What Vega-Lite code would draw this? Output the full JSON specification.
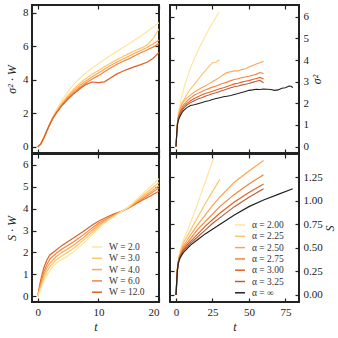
{
"$schema": "https://vega.github.io/schema/vega-lite/v6.json",
"padding": {"left": 4, "top": 3, "right": 1, "bottom": 3},
"background": "white",
"datasets": {
"tl": [
{"s":"W = 2.0","t":0,"v":0},{"s":"W = 2.0","t":0.5,"v":0.18},{"s":"W = 2.0","t":1,"v":0.55},{"s":"W = 2.0","t":1.5,"v":0.98},{"s":"W = 2.0","t":2,"v":1.4},{"s":"W = 2.0","t":2.5,"v":1.8},{"s":"W = 2.0","t":3,"v":2.15},{"s":"W = 2.0","t":4,"v":2.78},{"s":"W = 2.0","t":5,"v":3.3},{"s":"W = 2.0","t":6,"v":3.75},{"s":"W = 2.0","t":7,"v":4.1},{"s":"W = 2.0","t":8,"v":4.42},{"s":"W = 2.0","t":9,"v":4.7},{"s":"W = 2.0","t":10,"v":4.95},{"s":"W = 2.0","t":11,"v":5.2},{"s":"W = 2.0","t":12,"v":5.44},{"s":"W = 2.0","t":13,"v":5.67},{"s":"W = 2.0","t":14,"v":5.9},{"s":"W = 2.0","t":15,"v":6.13},{"s":"W = 2.0","t":16,"v":6.36},{"s":"W = 2.0","t":17,"v":6.6},{"s":"W = 2.0","t":18,"v":6.86},{"s":"W = 2.0","t":19,"v":7.12},{"s":"W = 2.0","t":20,"v":7.4},
{"s":"W = 3.0","t":0,"v":0},{"s":"W = 3.0","t":0.5,"v":0.18},{"s":"W = 3.0","t":1,"v":0.55},{"s":"W = 3.0","t":1.5,"v":0.97},{"s":"W = 3.0","t":2,"v":1.38},{"s":"W = 3.0","t":2.5,"v":1.74},{"s":"W = 3.0","t":3,"v":2.06},{"s":"W = 3.0","t":4,"v":2.62},{"s":"W = 3.0","t":5,"v":3.08},{"s":"W = 3.0","t":6,"v":3.47},{"s":"W = 3.0","t":7,"v":3.8},{"s":"W = 3.0","t":8,"v":4.08},{"s":"W = 3.0","t":9,"v":4.32},{"s":"W = 3.0","t":10,"v":4.55},{"s":"W = 3.0","t":11,"v":4.77},{"s":"W = 3.0","t":12,"v":4.98},{"s":"W = 3.0","t":13,"v":5.18},{"s":"W = 3.0","t":14,"v":5.37},{"s":"W = 3.0","t":15,"v":5.55},{"s":"W = 3.0","t":16,"v":5.72},{"s":"W = 3.0","t":17,"v":5.88},{"s":"W = 3.0","t":18,"v":6.05},{"s":"W = 3.0","t":19,"v":6.45},{"s":"W = 3.0","t":20,"v":7.02},
{"s":"W = 4.0","t":0,"v":0},{"s":"W = 4.0","t":0.5,"v":0.17},{"s":"W = 4.0","t":1,"v":0.54},{"s":"W = 4.0","t":1.5,"v":0.96},{"s":"W = 4.0","t":2,"v":1.37},{"s":"W = 4.0","t":2.5,"v":1.72},{"s":"W = 4.0","t":3,"v":2.02},{"s":"W = 4.0","t":4,"v":2.55},{"s":"W = 4.0","t":5,"v":2.98},{"s":"W = 4.0","t":6,"v":3.36},{"s":"W = 4.0","t":7,"v":3.67},{"s":"W = 4.0","t":8,"v":3.94},{"s":"W = 4.0","t":9,"v":4.18},{"s":"W = 4.0","t":10,"v":4.4},{"s":"W = 4.0","t":11,"v":4.62},{"s":"W = 4.0","t":12,"v":4.84},{"s":"W = 4.0","t":13,"v":5.04},{"s":"W = 4.0","t":14,"v":5.22},{"s":"W = 4.0","t":15,"v":5.4},{"s":"W = 4.0","t":16,"v":5.57},{"s":"W = 4.0","t":17,"v":5.74},{"s":"W = 4.0","t":18,"v":5.92},{"s":"W = 4.0","t":19,"v":6.12},{"s":"W = 4.0","t":20,"v":6.36},
{"s":"W = 6.0","t":0,"v":0},{"s":"W = 6.0","t":0.5,"v":0.17},{"s":"W = 6.0","t":1,"v":0.53},{"s":"W = 6.0","t":1.5,"v":0.95},{"s":"W = 6.0","t":2,"v":1.36},{"s":"W = 6.0","t":2.5,"v":1.71},{"s":"W = 6.0","t":3,"v":2.0},{"s":"W = 6.0","t":4,"v":2.5},{"s":"W = 6.0","t":5,"v":2.9},{"s":"W = 6.0","t":6,"v":3.26},{"s":"W = 6.0","t":7,"v":3.55},{"s":"W = 6.0","t":8,"v":3.82},{"s":"W = 6.0","t":9,"v":4.04},{"s":"W = 6.0","t":10,"v":4.24},{"s":"W = 6.0","t":11,"v":4.47},{"s":"W = 6.0","t":12,"v":4.7},{"s":"W = 6.0","t":13,"v":4.9},{"s":"W = 6.0","t":14,"v":5.08},{"s":"W = 6.0","t":15,"v":5.24},{"s":"W = 6.0","t":16,"v":5.43},{"s":"W = 6.0","t":17,"v":5.6},{"s":"W = 6.0","t":18,"v":5.77},{"s":"W = 6.0","t":19,"v":5.94},{"s":"W = 6.0","t":20,"v":6.15},
{"s":"W = 12.0","t":0,"v":0},{"s":"W = 12.0","t":0.5,"v":0.16},{"s":"W = 12.0","t":1,"v":0.52},{"s":"W = 12.0","t":1.5,"v":0.94},{"s":"W = 12.0","t":2,"v":1.35},{"s":"W = 12.0","t":2.5,"v":1.7},{"s":"W = 12.0","t":3,"v":1.98},{"s":"W = 12.0","t":4,"v":2.46},{"s":"W = 12.0","t":5,"v":2.85},{"s":"W = 12.0","t":6,"v":3.18},{"s":"W = 12.0","t":7,"v":3.47},{"s":"W = 12.0","t":8,"v":3.72},{"s":"W = 12.0","t":9,"v":3.86},{"s":"W = 12.0","t":10,"v":3.82},{"s":"W = 12.0","t":11,"v":3.87},{"s":"W = 12.0","t":12,"v":4.1},{"s":"W = 12.0","t":13,"v":4.33},{"s":"W = 12.0","t":14,"v":4.5},{"s":"W = 12.0","t":15,"v":4.64},{"s":"W = 12.0","t":16,"v":4.78},{"s":"W = 12.0","t":17,"v":4.9},{"s":"W = 12.0","t":18,"v":5.04},{"s":"W = 12.0","t":19,"v":5.26},{"s":"W = 12.0","t":20,"v":5.62}
],
"bl": [
{"s":"W = 12.0","t":0,"v":0},{"s":"W = 12.0","t":0.25,"v":0.4},{"s":"W = 12.0","t":0.5,"v":0.75},{"s":"W = 12.0","t":1,"v":1.3},{"s":"W = 12.0","t":1.5,"v":1.65},{"s":"W = 12.0","t":2,"v":1.88},{"s":"W = 12.0","t":3,"v":2.1},{"s":"W = 12.0","t":4,"v":2.32},{"s":"W = 12.0","t":5,"v":2.5},{"s":"W = 12.0","t":6,"v":2.68},{"s":"W = 12.0","t":7.5,"v":2.95},{"s":"W = 12.0","t":9,"v":3.25},{"s":"W = 12.0","t":10,"v":3.42},{"s":"W = 12.0","t":11,"v":3.56},{"s":"W = 12.0","t":12.5,"v":3.75},{"s":"W = 12.0","t":14,"v":3.9},{"s":"W = 12.0","t":15,"v":4.03},{"s":"W = 12.0","t":17,"v":4.35},{"s":"W = 12.0","t":18.5,"v":4.57},{"s":"W = 12.0","t":20,"v":4.8},
{"s":"W = 6.0","t":0,"v":0},{"s":"W = 6.0","t":0.25,"v":0.3},{"s":"W = 6.0","t":0.5,"v":0.6},{"s":"W = 6.0","t":1,"v":1.1},{"s":"W = 6.0","t":1.5,"v":1.45},{"s":"W = 6.0","t":2,"v":1.7},{"s":"W = 6.0","t":3,"v":1.95},{"s":"W = 6.0","t":4,"v":2.15},{"s":"W = 6.0","t":5,"v":2.33},{"s":"W = 6.0","t":6,"v":2.5},{"s":"W = 6.0","t":7.5,"v":2.8},{"s":"W = 6.0","t":9,"v":3.12},{"s":"W = 6.0","t":10,"v":3.33},{"s":"W = 6.0","t":11,"v":3.48},{"s":"W = 6.0","t":12.5,"v":3.7},{"s":"W = 6.0","t":14,"v":3.9},{"s":"W = 6.0","t":15,"v":4.05},{"s":"W = 6.0","t":17,"v":4.4},{"s":"W = 6.0","t":18.5,"v":4.67},{"s":"W = 6.0","t":20,"v":4.95},
{"s":"W = 4.0","t":0,"v":0},{"s":"W = 4.0","t":0.25,"v":0.25},{"s":"W = 4.0","t":0.5,"v":0.5},{"s":"W = 4.0","t":1,"v":0.95},{"s":"W = 4.0","t":1.5,"v":1.3},{"s":"W = 4.0","t":2,"v":1.5},{"s":"W = 4.0","t":3,"v":1.8},{"s":"W = 4.0","t":4,"v":2.0},{"s":"W = 4.0","t":5,"v":2.17},{"s":"W = 4.0","t":6,"v":2.35},{"s":"W = 4.0","t":7.5,"v":2.67},{"s":"W = 4.0","t":9,"v":3.02},{"s":"W = 4.0","t":10,"v":3.25},{"s":"W = 4.0","t":11,"v":3.42},{"s":"W = 4.0","t":12.5,"v":3.68},{"s":"W = 4.0","t":14,"v":3.9},{"s":"W = 4.0","t":15,"v":4.06},{"s":"W = 4.0","t":17,"v":4.45},{"s":"W = 4.0","t":18.5,"v":4.75},{"s":"W = 4.0","t":20,"v":5.05},
{"s":"W = 3.0","t":0,"v":0},{"s":"W = 3.0","t":0.25,"v":0.2},{"s":"W = 3.0","t":0.5,"v":0.42},{"s":"W = 3.0","t":1,"v":0.82},{"s":"W = 3.0","t":1.5,"v":1.12},{"s":"W = 3.0","t":2,"v":1.35},{"s":"W = 3.0","t":3,"v":1.65},{"s":"W = 3.0","t":4,"v":1.85},{"s":"W = 3.0","t":5,"v":2.02},{"s":"W = 3.0","t":6,"v":2.2},{"s":"W = 3.0","t":7.5,"v":2.55},{"s":"W = 3.0","t":9,"v":2.92},{"s":"W = 3.0","t":10,"v":3.17},{"s":"W = 3.0","t":11,"v":3.38},{"s":"W = 3.0","t":12.5,"v":3.65},{"s":"W = 3.0","t":14,"v":3.9},{"s":"W = 3.0","t":15,"v":4.07},{"s":"W = 3.0","t":17,"v":4.52},{"s":"W = 3.0","t":18.5,"v":4.85},{"s":"W = 3.0","t":20,"v":5.2},
{"s":"W = 2.0","t":0,"v":0},{"s":"W = 2.0","t":0.25,"v":0.15},{"s":"W = 2.0","t":0.5,"v":0.33},{"s":"W = 2.0","t":1,"v":0.68},{"s":"W = 2.0","t":1.5,"v":0.95},{"s":"W = 2.0","t":2,"v":1.18},{"s":"W = 2.0","t":3,"v":1.5},{"s":"W = 2.0","t":4,"v":1.68},{"s":"W = 2.0","t":5,"v":1.85},{"s":"W = 2.0","t":6,"v":2.05},{"s":"W = 2.0","t":7.5,"v":2.4},{"s":"W = 2.0","t":9,"v":2.82},{"s":"W = 2.0","t":10,"v":3.1},{"s":"W = 2.0","t":11,"v":3.33},{"s":"W = 2.0","t":12.5,"v":3.62},{"s":"W = 2.0","t":14,"v":3.9},{"s":"W = 2.0","t":15,"v":4.09},{"s":"W = 2.0","t":17,"v":4.6},{"s":"W = 2.0","t":18.5,"v":4.98},{"s":"W = 2.0","t":20,"v":5.37}
],
"tr": [
{"s":"α = 2.00","t":0,"v":0},{"s":"α = 2.00","t":0.5,"v":0.62},{"s":"α = 2.00","t":1,"v":1.15},{"s":"α = 2.00","t":1.5,"v":1.45},{"s":"α = 2.00","t":2,"v":1.68},{"s":"α = 2.00","t":3,"v":2.02},{"s":"α = 2.00","t":4,"v":2.32},{"s":"α = 2.00","t":5,"v":2.6},{"s":"α = 2.00","t":6,"v":2.85},{"s":"α = 2.00","t":7.5,"v":3.15},{"s":"α = 2.00","t":10,"v":3.65},{"s":"α = 2.00","t":12.5,"v":4.05},{"s":"α = 2.00","t":15,"v":4.42},{"s":"α = 2.00","t":17.5,"v":4.78},{"s":"α = 2.00","t":20,"v":5.1},{"s":"α = 2.00","t":22.5,"v":5.42},{"s":"α = 2.00","t":25,"v":5.72},{"s":"α = 2.00","t":27.5,"v":6.0},{"s":"α = 2.00","t":29.5,"v":6.24},
{"s":"α = 2.25","t":0,"v":0},{"s":"α = 2.25","t":0.5,"v":0.6},{"s":"α = 2.25","t":1,"v":1.1},{"s":"α = 2.25","t":1.5,"v":1.38},{"s":"α = 2.25","t":2,"v":1.55},{"s":"α = 2.25","t":3,"v":1.82},{"s":"α = 2.25","t":4,"v":2.0},{"s":"α = 2.25","t":5,"v":2.12},{"s":"α = 2.25","t":7.5,"v":2.42},{"s":"α = 2.25","t":10,"v":2.66},{"s":"α = 2.25","t":12.5,"v":2.88},{"s":"α = 2.25","t":15,"v":3.08},{"s":"α = 2.25","t":17.5,"v":3.3},{"s":"α = 2.25","t":20,"v":3.5},{"s":"α = 2.25","t":22.5,"v":3.7},{"s":"α = 2.25","t":25,"v":3.88},{"s":"α = 2.25","t":27.5,"v":3.9},{"s":"α = 2.25","t":29,"v":4.0},{"s":"α = 2.25","t":30,"v":3.98},
{"s":"α = 2.50","t":0,"v":0},{"s":"α = 2.50","t":0.5,"v":0.58},{"s":"α = 2.50","t":1,"v":1.08},{"s":"α = 2.50","t":1.5,"v":1.35},{"s":"α = 2.50","t":2,"v":1.52},{"s":"α = 2.50","t":3,"v":1.76},{"s":"α = 2.50","t":4,"v":1.95},{"s":"α = 2.50","t":5,"v":2.06},{"s":"α = 2.50","t":7.5,"v":2.25},{"s":"α = 2.50","t":10,"v":2.38},{"s":"α = 2.50","t":12.5,"v":2.52},{"s":"α = 2.50","t":15,"v":2.62},{"s":"α = 2.50","t":17.5,"v":2.72},{"s":"α = 2.50","t":20,"v":2.8},{"s":"α = 2.50","t":22.5,"v":2.9},{"s":"α = 2.50","t":25,"v":3.0},{"s":"α = 2.50","t":27.5,"v":3.1},{"s":"α = 2.50","t":30,"v":3.2},{"s":"α = 2.50","t":32.5,"v":3.32},{"s":"α = 2.50","t":35,"v":3.42},{"s":"α = 2.50","t":37.5,"v":3.46},{"s":"α = 2.50","t":40,"v":3.5},{"s":"α = 2.50","t":42.5,"v":3.5},{"s":"α = 2.50","t":45,"v":3.56},{"s":"α = 2.50","t":47.5,"v":3.6},{"s":"α = 2.50","t":50,"v":3.68},{"s":"α = 2.50","t":52.5,"v":3.75},{"s":"α = 2.50","t":55,"v":3.82},{"s":"α = 2.50","t":57.5,"v":3.88},{"s":"α = 2.50","t":60,"v":3.95},
{"s":"α = 2.75","t":0,"v":0},{"s":"α = 2.75","t":0.5,"v":0.57},{"s":"α = 2.75","t":1,"v":1.06},{"s":"α = 2.75","t":1.5,"v":1.3},{"s":"α = 2.75","t":2,"v":1.45},{"s":"α = 2.75","t":3,"v":1.65},{"s":"α = 2.75","t":4,"v":1.8},{"s":"α = 2.75","t":5,"v":1.92},{"s":"α = 2.75","t":7.5,"v":2.1},{"s":"α = 2.75","t":10,"v":2.25},{"s":"α = 2.75","t":12.5,"v":2.37},{"s":"α = 2.75","t":15,"v":2.46},{"s":"α = 2.75","t":17.5,"v":2.54},{"s":"α = 2.75","t":20,"v":2.62},{"s":"α = 2.75","t":22.5,"v":2.68},{"s":"α = 2.75","t":25,"v":2.75},{"s":"α = 2.75","t":27.5,"v":2.8},{"s":"α = 2.75","t":30,"v":2.87},{"s":"α = 2.75","t":32.5,"v":2.93},{"s":"α = 2.75","t":35,"v":2.98},{"s":"α = 2.75","t":37.5,"v":3.05},{"s":"α = 2.75","t":40,"v":3.1},{"s":"α = 2.75","t":42.5,"v":3.14},{"s":"α = 2.75","t":45,"v":3.18},{"s":"α = 2.75","t":47.5,"v":3.22},{"s":"α = 2.75","t":50,"v":3.25},{"s":"α = 2.75","t":52.5,"v":3.3},{"s":"α = 2.75","t":55,"v":3.34},{"s":"α = 2.75","t":57.5,"v":3.42},{"s":"α = 2.75","t":60,"v":3.38},
{"s":"α = 3.00","t":0,"v":0},{"s":"α = 3.00","t":0.5,"v":0.56},{"s":"α = 3.00","t":1,"v":1.04},{"s":"α = 3.00","t":1.5,"v":1.26},{"s":"α = 3.00","t":2,"v":1.4},{"s":"α = 3.00","t":3,"v":1.58},{"s":"α = 3.00","t":4,"v":1.72},{"s":"α = 3.00","t":5,"v":1.83},{"s":"α = 3.00","t":7.5,"v":2.0},{"s":"α = 3.00","t":10,"v":2.12},{"s":"α = 3.00","t":12.5,"v":2.22},{"s":"α = 3.00","t":15,"v":2.3},{"s":"α = 3.00","t":17.5,"v":2.38},{"s":"α = 3.00","t":20,"v":2.45},{"s":"α = 3.00","t":22.5,"v":2.5},{"s":"α = 3.00","t":25,"v":2.56},{"s":"α = 3.00","t":27.5,"v":2.62},{"s":"α = 3.00","t":30,"v":2.67},{"s":"α = 3.00","t":32.5,"v":2.72},{"s":"α = 3.00","t":35,"v":2.78},{"s":"α = 3.00","t":37.5,"v":2.84},{"s":"α = 3.00","t":40,"v":2.9},{"s":"α = 3.00","t":42.5,"v":2.93},{"s":"α = 3.00","t":45,"v":2.98},{"s":"α = 3.00","t":47.5,"v":3.02},{"s":"α = 3.00","t":50,"v":3.05},{"s":"α = 3.00","t":52.5,"v":3.1},{"s":"α = 3.00","t":55,"v":3.15},{"s":"α = 3.00","t":57.5,"v":3.2},{"s":"α = 3.00","t":60,"v":3.12},
{"s":"α = 3.25","t":0,"v":0},{"s":"α = 3.25","t":0.5,"v":0.55},{"s":"α = 3.25","t":1,"v":1.02},{"s":"α = 3.25","t":1.5,"v":1.22},{"s":"α = 3.25","t":2,"v":1.35},{"s":"α = 3.25","t":3,"v":1.52},{"s":"α = 3.25","t":4,"v":1.65},{"s":"α = 3.25","t":5,"v":1.75},{"s":"α = 3.25","t":7.5,"v":1.92},{"s":"α = 3.25","t":10,"v":2.03},{"s":"α = 3.25","t":12.5,"v":2.12},{"s":"α = 3.25","t":15,"v":2.2},{"s":"α = 3.25","t":17.5,"v":2.26},{"s":"α = 3.25","t":20,"v":2.33},{"s":"α = 3.25","t":22.5,"v":2.38},{"s":"α = 3.25","t":25,"v":2.44},{"s":"α = 3.25","t":27.5,"v":2.49},{"s":"α = 3.25","t":30,"v":2.55},{"s":"α = 3.25","t":32.5,"v":2.6},{"s":"α = 3.25","t":35,"v":2.66},{"s":"α = 3.25","t":37.5,"v":2.72},{"s":"α = 3.25","t":40,"v":2.77},{"s":"α = 3.25","t":42.5,"v":2.8},{"s":"α = 3.25","t":45,"v":2.84},{"s":"α = 3.25","t":47.5,"v":2.88},{"s":"α = 3.25","t":50,"v":2.92},{"s":"α = 3.25","t":52.5,"v":2.97},{"s":"α = 3.25","t":55,"v":3.02},{"s":"α = 3.25","t":57.5,"v":3.06},{"s":"α = 3.25","t":60,"v":2.95},
{"s":"α = ∞","t":0,"v":0},{"s":"α = ∞","t":0.5,"v":0.55},{"s":"α = ∞","t":1,"v":1.0},{"s":"α = ∞","t":1.5,"v":1.18},{"s":"α = ∞","t":2,"v":1.28},{"s":"α = ∞","t":3,"v":1.42},{"s":"α = ∞","t":4,"v":1.55},{"s":"α = ∞","t":5,"v":1.65},{"s":"α = ∞","t":7.5,"v":1.8},{"s":"α = ∞","t":10,"v":1.9},{"s":"α = ∞","t":12.5,"v":1.93},{"s":"α = ∞","t":15,"v":1.98},{"s":"α = ∞","t":17.5,"v":2.03},{"s":"α = ∞","t":20,"v":2.08},{"s":"α = ∞","t":22.5,"v":2.12},{"s":"α = ∞","t":25,"v":2.18},{"s":"α = ∞","t":27.5,"v":2.22},{"s":"α = ∞","t":30,"v":2.26},{"s":"α = ∞","t":32.5,"v":2.3},{"s":"α = ∞","t":35,"v":2.33},{"s":"α = ∞","t":37.5,"v":2.36},{"s":"α = ∞","t":40,"v":2.41},{"s":"α = ∞","t":42.5,"v":2.45},{"s":"α = ∞","t":45,"v":2.5},{"s":"α = ∞","t":47.5,"v":2.55},{"s":"α = ∞","t":50,"v":2.6},{"s":"α = ∞","t":52.5,"v":2.62},{"s":"α = ∞","t":55,"v":2.65},{"s":"α = ∞","t":57.5,"v":2.64},{"s":"α = ∞","t":60,"v":2.66},{"s":"α = ∞","t":62.5,"v":2.65},{"s":"α = ∞","t":65,"v":2.64},{"s":"α = ∞","t":67.5,"v":2.6},{"s":"α = ∞","t":70,"v":2.62},{"s":"α = ∞","t":72.5,"v":2.7},{"s":"α = ∞","t":75,"v":2.72},{"s":"α = ∞","t":77.5,"v":2.8},{"s":"α = ∞","t":79,"v":2.79},{"s":"α = ∞","t":80,"v":2.72}
],
"br": [
{"s":"α = 2.00","t":0,"v":0},{"s":"α = 2.00","t":0.25,"v":0.06},{"s":"α = 2.00","t":0.5,"v":0.15},{"s":"α = 2.00","t":1,"v":0.29},{"s":"α = 2.00","t":1.5,"v":0.36},{"s":"α = 2.00","t":2,"v":0.41},{"s":"α = 2.00","t":3,"v":0.48},{"s":"α = 2.00","t":5,"v":0.58},{"s":"α = 2.00","t":7.5,"v":0.67},{"s":"α = 2.00","t":10,"v":0.77},{"s":"α = 2.00","t":15,"v":0.98},{"s":"α = 2.00","t":20,"v":1.2},{"s":"α = 2.00","t":25,"v":1.42},{"s":"α = 2.00","t":26,"v":1.47},
{"s":"α = 2.25","t":0,"v":0},{"s":"α = 2.25","t":0.25,"v":0.06},{"s":"α = 2.25","t":0.5,"v":0.14},{"s":"α = 2.25","t":1,"v":0.28},{"s":"α = 2.25","t":1.5,"v":0.35},{"s":"α = 2.25","t":2,"v":0.4},{"s":"α = 2.25","t":3,"v":0.46},{"s":"α = 2.25","t":5,"v":0.55},{"s":"α = 2.25","t":7.5,"v":0.62},{"s":"α = 2.25","t":10,"v":0.69},{"s":"α = 2.25","t":15,"v":0.83},{"s":"α = 2.25","t":20,"v":0.97},{"s":"α = 2.25","t":25,"v":1.1},{"s":"α = 2.25","t":30,"v":1.23},
{"s":"α = 2.50","t":0,"v":0},{"s":"α = 2.50","t":0.25,"v":0.06},{"s":"α = 2.50","t":0.5,"v":0.14},{"s":"α = 2.50","t":1,"v":0.28},{"s":"α = 2.50","t":1.5,"v":0.34},{"s":"α = 2.50","t":2,"v":0.39},{"s":"α = 2.50","t":3,"v":0.44},{"s":"α = 2.50","t":5,"v":0.52},{"s":"α = 2.50","t":7.5,"v":0.58},{"s":"α = 2.50","t":10,"v":0.64},{"s":"α = 2.50","t":15,"v":0.75},{"s":"α = 2.50","t":20,"v":0.85},{"s":"α = 2.50","t":25,"v":0.95},{"s":"α = 2.50","t":30,"v":1.04},{"s":"α = 2.50","t":40,"v":1.2},{"s":"α = 2.50","t":50,"v":1.32},{"s":"α = 2.50","t":60,"v":1.43},
{"s":"α = 2.75","t":0,"v":0},{"s":"α = 2.75","t":0.25,"v":0.06},{"s":"α = 2.75","t":0.5,"v":0.14},{"s":"α = 2.75","t":1,"v":0.27},{"s":"α = 2.75","t":1.5,"v":0.34},{"s":"α = 2.75","t":2,"v":0.38},{"s":"α = 2.75","t":3,"v":0.43},{"s":"α = 2.75","t":5,"v":0.5},{"s":"α = 2.75","t":7.5,"v":0.55},{"s":"α = 2.75","t":10,"v":0.6},{"s":"α = 2.75","t":15,"v":0.7},{"s":"α = 2.75","t":20,"v":0.78},{"s":"α = 2.75","t":25,"v":0.86},{"s":"α = 2.75","t":30,"v":0.94},{"s":"α = 2.75","t":40,"v":1.07},{"s":"α = 2.75","t":50,"v":1.18},{"s":"α = 2.75","t":60,"v":1.28},
{"s":"α = 3.00","t":0,"v":0},{"s":"α = 3.00","t":0.25,"v":0.06},{"s":"α = 3.00","t":0.5,"v":0.14},{"s":"α = 3.00","t":1,"v":0.27},{"s":"α = 3.00","t":1.5,"v":0.33},{"s":"α = 3.00","t":2,"v":0.37},{"s":"α = 3.00","t":3,"v":0.42},{"s":"α = 3.00","t":5,"v":0.48},{"s":"α = 3.00","t":7.5,"v":0.53},{"s":"α = 3.00","t":10,"v":0.57},{"s":"α = 3.00","t":15,"v":0.65},{"s":"α = 3.00","t":20,"v":0.73},{"s":"α = 3.00","t":25,"v":0.8},{"s":"α = 3.00","t":30,"v":0.87},{"s":"α = 3.00","t":40,"v":0.99},{"s":"α = 3.00","t":50,"v":1.09},{"s":"α = 3.00","t":60,"v":1.18},
{"s":"α = 3.25","t":0,"v":0},{"s":"α = 3.25","t":0.25,"v":0.06},{"s":"α = 3.25","t":0.5,"v":0.14},{"s":"α = 3.25","t":1,"v":0.27},{"s":"α = 3.25","t":1.5,"v":0.33},{"s":"α = 3.25","t":2,"v":0.37},{"s":"α = 3.25","t":3,"v":0.41},{"s":"α = 3.25","t":5,"v":0.47},{"s":"α = 3.25","t":7.5,"v":0.51},{"s":"α = 3.25","t":10,"v":0.55},{"s":"α = 3.25","t":15,"v":0.62},{"s":"α = 3.25","t":20,"v":0.69},{"s":"α = 3.25","t":25,"v":0.76},{"s":"α = 3.25","t":30,"v":0.82},{"s":"α = 3.25","t":40,"v":0.94},{"s":"α = 3.25","t":50,"v":1.04},{"s":"α = 3.25","t":60,"v":1.13},
{"s":"α = ∞","t":0,"v":0},{"s":"α = ∞","t":0.25,"v":0.06},{"s":"α = ∞","t":0.5,"v":0.14},{"s":"α = ∞","t":1,"v":0.27},{"s":"α = ∞","t":1.5,"v":0.33},{"s":"α = ∞","t":2,"v":0.36},{"s":"α = ∞","t":3,"v":0.4},{"s":"α = ∞","t":5,"v":0.45},{"s":"α = ∞","t":7.5,"v":0.49},{"s":"α = ∞","t":10,"v":0.53},{"s":"α = ∞","t":15,"v":0.59},{"s":"α = ∞","t":20,"v":0.65},{"s":"α = ∞","t":25,"v":0.7},{"s":"α = ∞","t":30,"v":0.75},{"s":"α = ∞","t":40,"v":0.85},{"s":"α = ∞","t":50,"v":0.94},{"s":"α = ∞","t":60,"v":1.01},{"s":"α = ∞","t":70,"v":1.07},{"s":"α = ∞","t":80,"v":1.13}
]
},
"columns": 2,
"spacing": {"row": 1, "column": 11},
"bounds": "flush",
"concat": [
{
"width": 127, "height": 148,
"data": {"name": "tl"},
"layer": [
{"mark": {"type": "line", "strokeWidth": 1.2, "clip": true},
"encoding": {
"x": {"field": "t", "type": "quantitative", "scale": {"domain": [-0.95, 20], "nice": false, "zero": false}, "axis": {"orient": "bottom", "values": [0, 10, 20], "labels": false, "title": null}},
"y": {"field": "v", "type": "quantitative", "scale": {"domain": [-0.37, 8.45], "nice": false, "zero": false}, "axis": {"orient": "left", "values": [0, 2, 4, 6, 8], "title": "σ² · W"}},
"color": {"field": "s", "type": "nominal", "scale": {"domain": ["W = 2.0", "W = 3.0", "W = 4.0", "W = 6.0", "W = 12.0"], "range": ["#fee49c", "#fdc56a", "#fca552", "#f3843c", "#de6125"]}, "legend": null}}},
{"mark": {"type": "line", "opacity": 0},
"encoding": {
"x": {"field": "t", "type": "quantitative", "scale": {"domain": [-0.95, 20], "nice": false, "zero": false}, "axis": {"orient": "top", "values": [0, 10, 20], "labels": false, "title": null}},
"y": {"field": "v", "type": "quantitative", "scale": {"domain": [-0.37, 8.45], "nice": false, "zero": false}, "axis": {"orient": "right", "values": [0, 2, 4, 6, 8], "labels": false, "title": null}}}}
],
"resolve": {"axis": {"x": "independent", "y": "independent"}}
},
{
"width": 129, "height": 148,
"data": {"name": "tr"},
"layer": [
{"mark": {"type": "line", "strokeWidth": 1.1, "clip": true},
"encoding": {
"x": {"field": "t", "type": "quantitative", "scale": {"domain": [-4.1, 84.3], "nice": false, "zero": false}, "axis": {"orient": "bottom", "values": [0, 25, 50, 75], "labels": false, "title": null}},
"y": {"field": "v", "type": "quantitative", "scale": {"domain": [-0.3, 6.55], "nice": false, "zero": false}, "axis": {"orient": "right", "values": [0, 1, 2, 3, 4, 5, 6], "title": "σ²", "titleAngle": 270, "titleBaseline": "top", "titlePadding": 3}},
"color": {"field": "s", "type": "nominal", "scale": {"domain": ["α = 2.00", "α = 2.25", "α = 2.50", "α = 2.75", "α = 3.00", "α = 3.25", "α = ∞"], "range": ["#fee49c", "#fdc56a", "#fca552", "#f3843c", "#de6125", "#b5613a", "#222222"]}, "legend": null}}},
{"mark": {"type": "line", "opacity": 0},
"encoding": {
"x": {"field": "t", "type": "quantitative", "scale": {"domain": [-4.1, 84.3], "nice": false, "zero": false}, "axis": {"orient": "top", "values": [0, 25, 50, 75], "labels": false, "title": null}},
"y": {"field": "v", "type": "quantitative", "scale": {"domain": [-0.3, 6.55], "nice": false, "zero": false}, "axis": {"orient": "left", "values": [0, 1, 2, 3, 4, 5, 6], "labels": false, "title": null}}}}
],
"resolve": {"axis": {"x": "independent", "y": "independent"}}
},
{
"width": 127, "height": 148,
"data": {"name": "bl"},
"layer": [
{"mark": {"type": "line", "strokeWidth": 1.2, "clip": true},
"encoding": {
"x": {"field": "t", "type": "quantitative", "scale": {"domain": [-0.95, 20], "nice": false, "zero": false}, "axis": {"orient": "bottom", "values": [0, 10, 20], "title": "t"}},
"y": {"field": "v", "type": "quantitative", "scale": {"domain": [-0.27, 6.5], "nice": false, "zero": false}, "axis": {"orient": "left", "values": [0, 1, 2, 3, 4, 5, 6], "title": "S · W"}},
"color": {"field": "s", "type": "nominal", "scale": {"domain": ["W = 2.0", "W = 3.0", "W = 4.0", "W = 6.0", "W = 12.0"], "range": ["#fee49c", "#fdc56a", "#fca552", "#f3843c", "#de6125"]}, "legend": {"orient": "none", "legendX": 59, "legendY": 87, "title": null}}}},
{"mark": {"type": "line", "opacity": 0},
"encoding": {
"x": {"field": "t", "type": "quantitative", "scale": {"domain": [-0.95, 20], "nice": false, "zero": false}, "axis": {"orient": "top", "values": [0, 10, 20], "labels": false, "title": null}},
"y": {"field": "v", "type": "quantitative", "scale": {"domain": [-0.27, 6.5], "nice": false, "zero": false}, "axis": {"orient": "right", "values": [0, 1, 2, 3, 4, 5, 6], "labels": false, "title": null}}}}
],
"resolve": {"axis": {"x": "independent", "y": "independent"}}
},
{
"width": 129, "height": 148,
"data": {"name": "br"},
"layer": [
{"mark": {"type": "line", "strokeWidth": 1.2, "clip": true},
"encoding": {
"x": {"field": "t", "type": "quantitative", "scale": {"domain": [-4.1, 84.3], "nice": false, "zero": false}, "axis": {"orient": "bottom", "values": [0, 25, 50, 75], "title": "t"}},
"y": {"field": "v", "type": "quantitative", "scale": {"domain": [-0.075, 1.5], "nice": false, "zero": false}, "axis": {"orient": "right", "values": [0, 0.25, 0.5, 0.75, 1, 1.25], "format": ".2f", "title": "S", "titleAngle": 270, "titleBaseline": "top", "titlePadding": 2}},
"color": {"field": "s", "type": "nominal", "scale": {"domain": ["α = 2.00", "α = 2.25", "α = 2.50", "α = 2.75", "α = 3.00", "α = 3.25", "α = ∞"], "range": ["#fee49c", "#fdc56a", "#fca552", "#f3843c", "#de6125", "#b5613a", "#222222"]}, "legend": {"orient": "none", "legendX": 64, "legendY": 65, "title": null}}}},
{"mark": {"type": "line", "opacity": 0},
"encoding": {
"x": {"field": "t", "type": "quantitative", "scale": {"domain": [-4.1, 84.3], "nice": false, "zero": false}, "axis": {"orient": "top", "values": [0, 25, 50, 75], "labels": false, "title": null}},
"y": {"field": "v", "type": "quantitative", "scale": {"domain": [-0.075, 1.5], "nice": false, "zero": false}, "axis": {"orient": "left", "values": [0, 0.25, 0.5, 0.75, 1, 1.25], "labels": false, "title": null}}}}
],
"resolve": {"axis": {"x": "independent", "y": "independent"}}
}
],
"resolve": {"scale": {"color": "independent"}, "legend": {"color": "independent"}},
"config": {
"view": {"stroke": "#222222", "strokeWidth": 2},
"axis": {"grid": false, "domain": false, "ticks": true, "tickSize": -4, "tickColor": "#222222", "tickWidth": 1.2, "labelFont": "Liberation Serif", "labelFontSize": 11, "labelColor": "#222222", "labelPadding": 8, "titleFont": "Liberation Serif", "titleFontSize": 12, "titleFontWeight": "normal", "titleFontStyle": "italic", "titleColor": "#222222", "titlePadding": 4},
"legend": {"labelFont": "Liberation Serif", "labelFontSize": 9.5, "labelColor": "#333333", "symbolSize": 100, "symbolStrokeWidth": 1.5, "symbolType": "stroke", "rowPadding": 0.3, "labelOffset": 6, "padding": 0}
}
}
